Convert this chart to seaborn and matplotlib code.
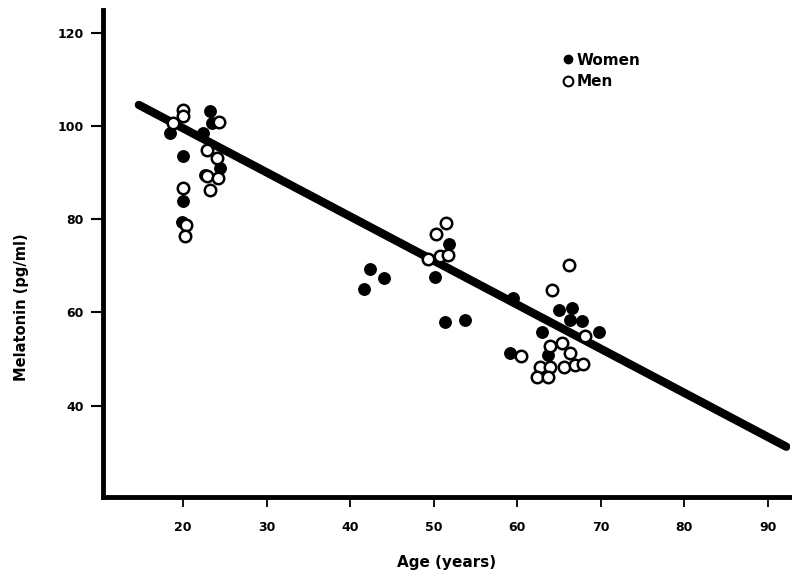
import numpy as np
import pandas as pd
import matplotlib
matplotlib.use("Agg")
import matplotlib.pyplot as plt
from matplotlib.lines import Line2D
import seaborn as sns

# Data
women_age = [18.4, 20.0, 20.0, 19.9, 22.4, 23.2, 23.4, 22.6, 24.4,
             42.4, 44.0, 41.7, 51.8, 50.1, 51.3, 53.7, 59.5,
             65.0, 66.6, 66.3, 67.7, 62.9, 69.8, 63.7, 59.1]
women_mel = [98.5, 93.5, 83.8, 79.4, 98.5, 103.3, 100.6, 89.5, 91.0,
             69.4, 67.4, 65.1, 74.7, 67.5, 58.0, 58.3, 63.1,
             60.6, 60.9, 58.4, 58.2, 55.9, 55.9, 50.9, 51.3]

men_age = [18.8, 20.0, 20.0, 20.0, 20.4, 20.2, 22.8, 24.1, 24.3, 22.8, 24.2, 23.2,
           51.5, 50.3, 49.3, 50.7, 51.7,
           66.2, 64.2, 68.1, 63.9, 65.3, 66.3, 60.4, 62.7, 63.9, 65.6, 66.9, 67.9,
           62.3, 63.7]
men_mel = [100.6, 103.5, 102.2, 86.7, 78.8, 76.3, 94.9, 93.1, 100.8, 89.2, 88.8, 86.3,
           79.2, 76.8, 71.4, 72.0, 72.4,
           70.2, 64.8, 55.0, 52.7, 53.4, 51.3, 50.7, 48.4, 48.4, 48.4, 48.8, 49.0,
           46.2, 46.2]

# regression line end points
fit_age = [14.7, 92.2]
fit_mel = [104.5, 31.2]

women = pd.DataFrame({"age": women_age, "melatonin": women_mel})
men = pd.DataFrame({"age": men_age, "melatonin": men_mel})
fit = pd.DataFrame({"age": fit_age, "melatonin": fit_mel})

sns.set_style("white")
plt.rcParams["font.family"] = ["DejaVu Sans"]
for key in ["text.color", "axes.labelcolor", "xtick.color", "ytick.color"]:
    plt.rcParams[key] = "black"

fig = plt.figure(figsize=(7.92, 5.76), dpi=100)
ax = fig.add_axes([0.130, 0.137, 0.867, 0.846])

sns.lineplot(data=fit, x="age", y="melatonin", color="black", linewidth=6,
             ax=ax, zorder=2)
sns.scatterplot(data=women, x="age", y="melatonin", color="black", s=68,
                edgecolor="black", linewidth=1, ax=ax, zorder=3)
sns.scatterplot(data=men, x="age", y="melatonin", color="white", s=68,
                edgecolor="black", linewidth=1.8, ax=ax, zorder=4)

ax.set_xlim(10.4, 92.6)
ax.set_ylim(20.4, 124.9)
ax.set_xticks([20, 30, 40, 50, 60, 70, 80, 90])
ax.set_yticks([40, 60, 80, 100, 120])

for side in ["top", "right"]:
    ax.spines[side].set_visible(False)
for side in ["left", "bottom"]:
    ax.spines[side].set_linewidth(3.5)
    ax.spines[side].set_color("black")

ax.tick_params(axis="y", left=True, length=9, width=1.5, direction="out",
               pad=5, labelsize=9, colors="black")
ax.tick_params(axis="x", bottom=True, length=7, width=1.3, direction="out",
               pad=10, labelsize=9, colors="black")
for lab in ax.get_xticklabels() + ax.get_yticklabels():
    lab.set_fontweight("bold")

ax.set_xlabel("Age (years)", fontsize=11, fontweight="bold")
ax.set_ylabel("Melatonin (pg/ml)", fontsize=10.5, fontweight="bold")
ax.xaxis.set_label_coords(0.5, -0.118)
ax.yaxis.set_label_coords(-0.108, 0.39)

handles = [
    Line2D([], [], marker="o", linestyle="", color="black", markersize=6),
    Line2D([], [], marker="o", linestyle="", markerfacecolor="white",
           markeredgecolor="black", markeredgewidth=1.5, markersize=7),
]
ax.legend(handles, ["Women", "Men"], loc="upper left",
          bbox_to_anchor=(0.65, 0.94), frameon=False, handlelength=0.6,
          handletextpad=0.3, labelspacing=0.4,
          prop={"size": 11, "weight": "bold"})

fig.savefig("out.png", dpi=100)
